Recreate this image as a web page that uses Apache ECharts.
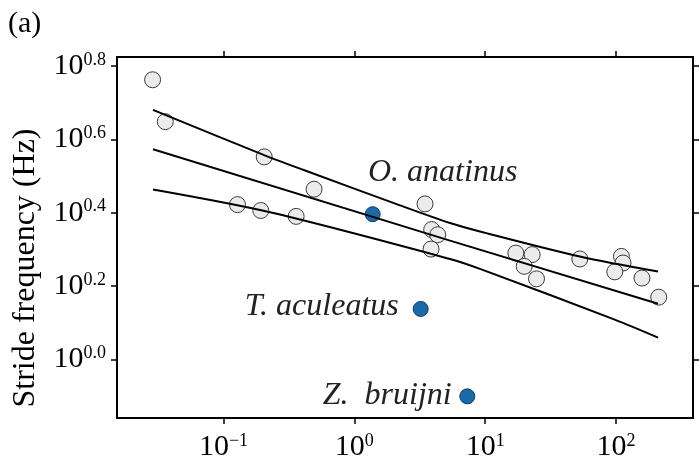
<!DOCTYPE html>
<html>
<head>
<meta charset="utf-8">
<script src="https://cdn.jsdelivr.net/npm/echarts@6/dist/echarts.min.js"></script>
<style>
html,body{margin:0;padding:0;background:#fff;}
#chart{width:699px;height:470px;}
</style>
</head>
<body>
<div id="chart"></div>
<script>
// log10(body mass), log10(stride frequency) of comparison species (grey)
var massExp = [-1.542, -1.445, -0.689, -0.893, -0.715, -0.308, -0.445, 0.540, 0.591, 0.637, 0.586,
               1.234, 1.359, 1.298, 1.392, 1.723, 2.041, 2.053, 1.990, 2.198, 2.326];
var freqExp = [0.762, 0.648, 0.552, 0.422, 0.406, 0.464, 0.390, 0.424, 0.354, 0.340, 0.301,
               0.290, 0.286, 0.254, 0.220, 0.274, 0.281, 0.263, 0.239, 0.222, 0.170];
// monotremes (blue)
var monoNames = ['O. anatinus', 'T. aculeatus', 'Z.  bruijni'];
var monoMassExp = [0.140, 0.507, 0.863];
var monoFreqExp = [0.396, 0.138, -0.100];
// regression line and interval bands
var upperX = [-1.539, -0.689, -0.392, 0.349, 0.731, 0.960, 1.723, 2.321];
var upperY = [0.680, 0.557, 0.517, 0.420, 0.372, 0.349, 0.281, 0.240];
var fitX = [-1.539, 0.731, 2.321];
var fitY = [0.573, 0.324, 0.152];
var lowerX = [-1.539, -0.644, 0.731, 0.960, 1.990, 2.321];
var lowerY = [0.463, 0.401, 0.274, 0.247, 0.109, 0.060];
// tick values (exponents)
var xTicks = [-1, 0, 1, 2];
var yTicks = [0, 0.2, 0.4, 0.6, 0.8];

function zip(a, b) { return a.map(function (v, i) { return [v, b[i]]; }); }

var serif = 'Liberation Serif';
var labelOffsets = [[70, -42], [-99, -2], [-80, -1]];

var xRange = [-1.814, 2.588];
var yRange = [-0.159, 0.824];

var richTick = {
  b: { fontFamily: serif, fontSize: 30, color: '#000', lineHeight: 30 },
  s: { fontFamily: serif, fontSize: 18, color: '#000', verticalAlign: 'top', lineHeight: 20 }
};

function xAxisCfg(pos, showLabel) {
  return {
    type: 'value', position: pos, min: xRange[0], max: xRange[1],
    axisLine: { show: true, onZero: false, lineStyle: { color: '#000', width: 2 } },
    axisTick: { show: true, inside: false, length: 6, lineStyle: { color: '#000', width: 1.5 }, customValues: xTicks },
    axisLabel: {
      show: showLabel, customValues: xTicks, margin: 14,
      formatter: function (v) { return '{b|10}{s|' + String(Math.round(v)).replace('-', '\u2212') + '}'; },
      rich: richTick
    },
    splitLine: { show: false }
  };
}
function yAxisCfg(pos, showLabel) {
  return {
    type: 'value', position: pos, min: yRange[0], max: yRange[1],
    axisLine: { show: true, onZero: false, lineStyle: { color: '#000', width: 2 } },
    axisTick: { show: true, inside: false, length: 6, lineStyle: { color: '#000', width: 1.5 }, customValues: yTicks },
    axisLabel: {
      show: showLabel, customValues: yTicks, margin: 11,
      formatter: function (v) { return '{b|10}{s|' + v.toFixed(1) + '}'; },
      rich: richTick
    },
    splitLine: { show: false }
  };
}

var chart = echarts.init(document.getElementById('chart'), null, { renderer: 'canvas' });

chart.setOption({
  animation: false,
  backgroundColor: '#fff',
  grid: { left: 117, right: 6, top: 57, bottom: 52 },
  xAxis: [xAxisCfg('bottom', true), xAxisCfg('top', false)],
  yAxis: [yAxisCfg('left', true), yAxisCfg('right', false)],
  graphic: [{
    type: 'text', left: 8, top: 9,
    style: { text: '(a)', fontFamily: serif, fontSize: 30, fill: '#000' }
  }, {
    type: 'text', x: 26, y: 268, rotation: Math.PI / 2,
    style: { text: 'Stride frequency (Hz)', fontFamily: serif, fontSize: 32, fill: '#000',
             align: 'center', verticalAlign: 'middle' }
  }],
  series: [
    {
      type: 'scatter', data: zip(massExp, freqExp), symbol: 'circle', symbolSize: 16,
      itemStyle: { color: '#ebebeb', borderColor: '#3a3a3a', borderWidth: 1, opacity: 1 }, z: 2
    },
    {
      type: 'scatter', symbol: 'circle', symbolSize: 15, z: 3,
      itemStyle: { color: '#1a6aaa', borderColor: '#0e3c66', borderWidth: 1, opacity: 1 },
      data: monoNames.map(function (n, i) {
        return {
          value: [monoMassExp[i], monoFreqExp[i]], name: n,
          label: { show: true, position: 'inside', offset: labelOffsets[i], formatter: n,
                   fontFamily: serif, fontStyle: 'italic', fontSize: 32, color: '#222' }
        };
      })
    },
    { type: 'line', data: zip(upperX, upperY), showSymbol: false, smooth: 0.3, z: 4,
      lineStyle: { color: '#000', width: 2 } },
    { type: 'line', data: zip(fitX, fitY), showSymbol: false, z: 4,
      lineStyle: { color: '#000', width: 2 } },
    { type: 'line', data: zip(lowerX, lowerY), showSymbol: false, smooth: 0.3, z: 4,
      lineStyle: { color: '#000', width: 2 } }
  ]
});
</script>
</body>
</html>
